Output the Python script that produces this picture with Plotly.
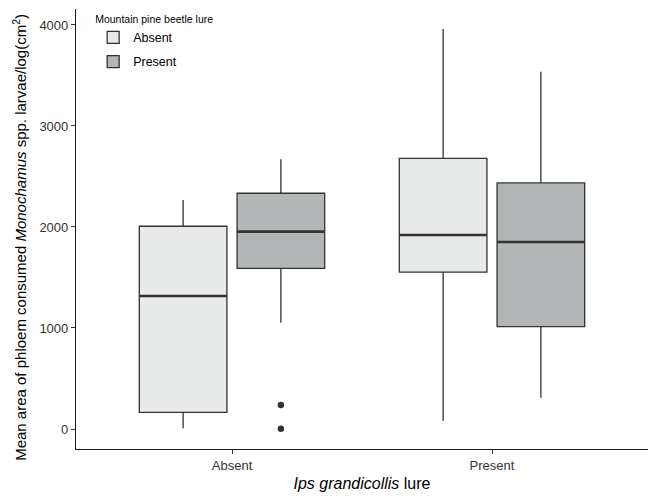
import plotly.graph_objects as go

categories = ["Absent", "Present"]          # Ips grandicollis lure (x axis)
groups = ["Absent", "Present"]              # Mountain pine beetle lure (fill)
fills = {"Absent": "#E8E9E9", "Present": "#B3B6B7"}

# per MPB-lure group: values for [Ips Absent, Ips Present]
lower = {"Absent": [7, 82], "Present": [1052, 310]}
q1 = {"Absent": [165, 1554], "Present": [1591, 1013]}
median = {"Absent": [1317, 1921], "Present": [1954, 1851]}
q3 = {"Absent": [2007, 2680], "Present": [2334, 2436]}
upper = {"Absent": [2267, 3960], "Present": [2670, 3538]}
outlier_cat = ["Absent", "Absent"]
outlier_group = ["Present", "Present"]
outlier_val = [238, 3]

dodge = {"Absent": -0.188, "Present": 0.188}
box_w = 0.337
line_c = "#333333"

fig = go.Figure()
cat_pos = {c: i + 1 for i, c in enumerate(categories)}
for g in groups:
    xs = [cat_pos[c] + dodge[g] for c in categories]
    fig.add_trace(go.Box(
        x=xs, q1=q1[g], median=median[g], q3=q3[g],
        lowerfence=lower[g], upperfence=upper[g],
        width=box_w, whiskerwidth=0, name=g, legendgroup=g,
        fillcolor=fills[g], line=dict(color=line_c, width=1.3),
        boxpoints=False, hoverinfo="skip"))
    mx, my = [], []
    for x, m in zip(xs, median[g]):
        mx += [x - box_w / 2, x + box_w / 2, None]
        my += [m, m, None]
    fig.add_trace(go.Scatter(x=mx, y=my, mode="lines", showlegend=False,
                             line=dict(color=line_c, width=2.6), hoverinfo="skip"))

ox = [cat_pos[c] + dodge[g] for c, g in zip(outlier_cat, outlier_group)]
fig.add_trace(go.Scatter(x=ox, y=outlier_val, mode="markers", showlegend=False,
                         marker=dict(color=line_c, size=6.5), hoverinfo="skip"))

font = "Liberation Sans, Arial, sans-serif"
fig.update_layout(
    width=648, height=496,
    margin=dict(l=76, r=0, t=9, b=47),
    paper_bgcolor="white", plot_bgcolor="white",
    font=dict(family=font, color="#333333"),
    legend=dict(
        title=dict(text="Mountain pine beetle lure", font=dict(size=10.5, color="black")),
        x=0.03, y=1.0, xanchor="left", yanchor="top",
        font=dict(size=12.5, color="black"), bgcolor="rgba(0,0,0,0)",
        tracegroupgap=5),
    xaxis=dict(
        range=[0.4, 2.6], tickvals=[cat_pos[c] for c in categories], ticktext=categories,
        showline=True, linecolor="#1a1a1a", linewidth=1.2, ticks="outside", ticklen=4,
        tickcolor="#333333", showgrid=False, zeroline=False,
        tickfont=dict(size=13, color="#333333"),
        title=dict(text="<i>Ips grandicollis</i> lure", font=dict(size=16, color="black"), standoff=6)),
    yaxis=dict(
        range=[-198, 4158], tickvals=[0, 1000, 2000, 3000, 4000],
        showline=True, linecolor="#1a1a1a", linewidth=1.2, ticks="outside", ticklen=4,
        tickcolor="#333333", showgrid=False, zeroline=False,
        tickfont=dict(size=13, color="#333333")),
    annotations=[dict(
        text="Mean area of phloem consumed <i>Monochamus</i> spp. larvae/log(cm<sup>2</sup>)",
        textangle=-90, xref="paper", yref="paper", x=-0.098, y=0.482,
        xanchor="center", yanchor="middle", showarrow=False,
        font=dict(size=15, color="black", family=font))],
)
fig.write_html("out.html")
